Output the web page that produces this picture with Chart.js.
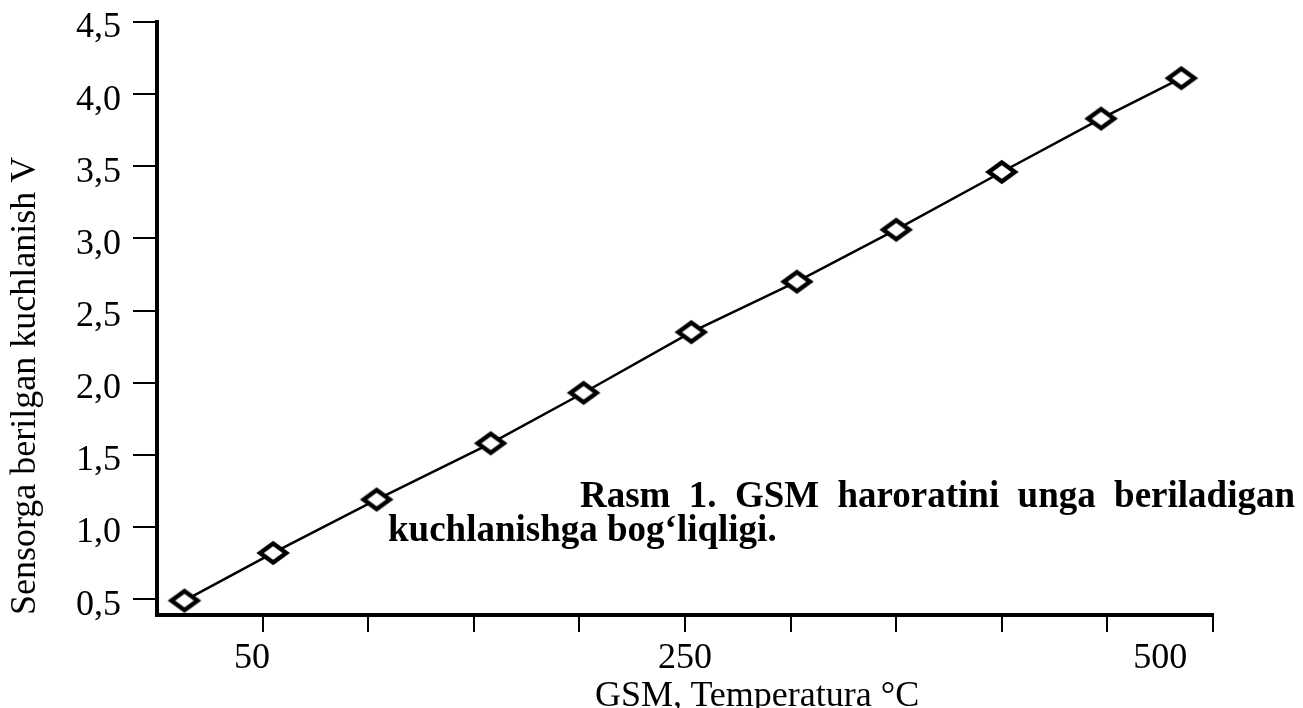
<!DOCTYPE html>
<html>
<head>
<meta charset="utf-8">
<script src="https://cdn.jsdelivr.net/npm/chart.js@4/dist/chart.umd.min.js"></script>
<style>
    body { margin: 0; background: #ffffff; }
    #wrap { position: relative; width: 1303px; height: 708px; }
    .caption {
        position: absolute;
        left: 388px;
        top: 478px;
        width: 907px;
        font: bold 37px "Liberation Serif", "Times New Roman", serif;
        line-height: 34px;
        text-align: justify;
        text-indent: 192px;
        color: #000;
    }
    .xtitle {
        position: absolute;
        left: 595px;
        top: 676px;
        font: 36px "Liberation Serif", "Times New Roman", serif;
        line-height: 36px;
        white-space: nowrap;
        color: #000;
    }
</style>
</head>
<body>
<div id="wrap">
    <canvas id="chart"></canvas>
    <div class="caption">Rasm 1. GSM haroratini unga beriladigan kuchlanishga bog‘liqligi.</div>
    <div class="xtitle">GSM, Temperatura °C</div>
</div>
<script>
const tempC = [13, 55, 104, 158, 202, 253, 303, 350, 400, 447, 485];
const voltage = [0.49, 0.82, 1.19, 1.58, 1.93, 2.35, 2.70, 3.06, 3.46, 3.83, 4.11];

const yTicks = [0.5, 1.0, 1.5, 2.0, 2.5, 3.0, 3.5, 4.0, 4.5];
const xTicks = [50, 100, 150, 200, 250, 300, 350, 400, 450, 500];
const xTickLabels = ["50", "250", "500"];
const xLabelAt = [45, 250, 475];

const serif = "'Liberation Serif', 'Times New Roman', serif";

// hollow flattened diamond marker
function diamondMarker() {
    const c = document.createElement("canvas");
    c.width = 40;
    c.height = 30;
    const g = c.getContext("2d");
    g.beginPath();
    g.moveTo(20, 5.5);
    g.lineTo(33, 15);
    g.lineTo(20, 24.5);
    g.lineTo(7, 15);
    g.closePath();
    g.fillStyle = "#ffffff";
    g.fill();
    g.lineWidth = 4.5;
    g.lineJoin = "miter";
    g.strokeStyle = "#000000";
    g.stroke();
    return c;
}

const ctx = document.getElementById("chart").getContext("2d");

new Chart(ctx, {
    type: "line",
    data: {
        datasets: [
            {
                data: tempC.map((t, i) => ({ x: t, y: voltage[i] })),
                borderColor: "#000000",
                borderWidth: 2.5,
                pointStyle: diamondMarker(),
                pointRadius: 12,
                tension: 0
            }
        ]
    },
    options: {
        responsive: true,
        maintainAspectRatio: false,
        animation: false,
        layout: { padding: { top: 0, right: 90, bottom: 30, left: 0 } },
        plugins: {
            legend: { display: false },
            tooltip: { enabled: false }
        },
        scales: {
            x: {
                type: "linear",
                position: "bottom",
                min: 0,
                max: 500,
                afterBuildTicks: (scale) => {
                    scale.ticks = xTicks.map((v) => ({ value: v }));
                },
                ticks: { display: false },
                grid: {
                    drawOnChartArea: false,
                    drawTicks: true,
                    tickLength: 17,
                    color: "#000000",
                    lineWidth: 2
                },
                border: { display: true, color: "#000000", width: 4 }
            },
            xl: {
                type: "linear",
                position: "bottom",
                min: 0,
                max: 500,
                afterBuildTicks: (scale) => {
                    scale.ticks = xLabelAt.map((v) => ({ value: v }));
                },
                ticks: {
                    autoSkip: false,
                    maxRotation: 0,
                    padding: 1,
                    color: "#000000",
                    font: { family: serif, size: 36, lineHeight: 1 },
                    callback: (v, i) => xTickLabels[i]
                },
                grid: { display: false },
                border: { display: false }
            },
            y: {
                type: "linear",
                min: 0.39,
                max: 4.5,
                afterBuildTicks: (scale) => {
                    scale.ticks = yTicks.map((v) => ({ value: v }));
                },
                afterFit: (scale) => {
                    scale.width = 157;
                },
                ticks: {
                    padding: 12,
                    labelOffset: 6,
                    color: "#000000",
                    font: { family: serif, size: 36, lineHeight: 0.55 },
                    callback: (v) => v.toFixed(1).replace(".", ",")
                },
                grid: {
                    drawOnChartArea: false,
                    drawTicks: true,
                    tickLength: 24,
                    color: "#000000",
                    lineWidth: 2
                },
                border: { display: true, color: "#000000", width: 4 },
                title: {
                    display: true,
                    text: "Sensorga berilgan kuchlanish V",
                    align: "start",
                    color: "#000000",
                    font: { family: serif, size: 36 },
                    padding: { top: 4, bottom: 0 }
                }
            }
        }
    }
});
</script>
</body>
</html>
